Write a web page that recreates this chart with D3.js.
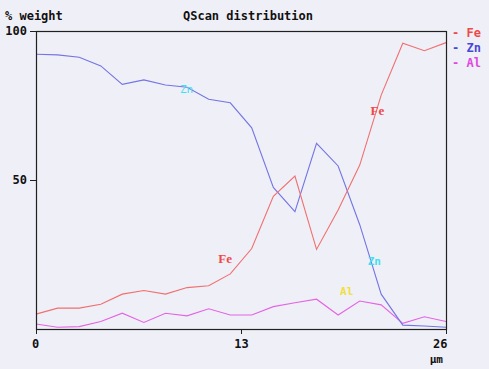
<!DOCTYPE html>
<html>
<head>
<meta charset="utf-8">
<script src="https://cdn.jsdelivr.net/npm/d3@7"></script>
<style>
  body { margin: 0; background: #efeff7; }
  text { font-family: "DejaVu Sans Mono", monospace; font-weight: bold; }
</style>
</head>
<body>
<svg id="chart" width="489" height="369"></svg>
<script>
// scan positions (µm)
var positions = [0, 1.37, 2.74, 4.11, 5.47, 6.84, 8.21, 9.58, 10.95, 12.32,
                 13.68, 15.05, 16.42, 17.79, 19.16, 20.53, 21.89, 23.26, 24.63, 26];

// % weight per element
var fe = [5.0, 7.0, 7.0, 8.3, 11.7, 12.9, 11.7, 13.9, 14.5, 18.5,
          27.0, 44.5, 51.3, 26.7, 39.9, 55.0, 78.5, 95.9, 93.4, 96.1];
var zn = [92.2, 92.0, 91.2, 88.3, 82.1, 83.6, 81.9, 81.1, 77.1, 75.9,
          67.5, 47.5, 39.4, 62.3, 54.7, 35.0, 11.7, 1.3, 1.0, 0.6];
var al = [1.7, 0.6, 0.8, 2.5, 5.3, 2.2, 5.3, 4.4, 6.8, 4.7,
          4.7, 7.5, 8.8, 10.0, 4.7, 9.4, 8.1, 1.9, 4.1, 2.5];

var elements = ["Fe", "Zn", "Al"];
var xTicks = [0, 13, 26];
var yTicks = [50, 100];

// in-plot element labels [element, µm, % weight]
var labels = [["Zn", 9.55, 80.5], ["Fe", 21.65, 73.2], ["Fe", 12.0, 23.8],
              ["Zn", 21.45, 22.8], ["Al", 19.7, 12.8]];

var lineColor = { Fe: "#f07070", Zn: "#7474e4", Al: "#e464e4" };
var legendColor = { Fe: "#f04848", Zn: "#4848d8", Al: "#e048e0" };
var labelColor = { Fe: "#f04848", Zn: "#40e0f0", Al: "#f0e040" };
var labelFont = { Fe: '"Liberation Serif", serif', Zn: '"DejaVu Sans Mono", monospace', Al: '"DejaVu Sans Mono", monospace' };

var MARGIN = { top: 31, right: 43, bottom: 40, left: 36 };
var width = 489 - MARGIN.left - MARGIN.right;
var height = 369 - MARGIN.top - MARGIN.bottom;

var svg = d3.select("#chart");
var g = svg.append("g").attr("transform", "translate(" + MARGIN.left + "," + MARGIN.top + ")");

var x = d3.scaleLinear().domain([0, 26]).range([0, width]);
var y = d3.scaleLinear().domain([0, 100]).range([height, 0]);

var series = { Fe: fe, Zn: zn, Al: al };

// lines
var line = d3.line()
  .x(function(d, i) { return x(positions[i]); })
  .y(function(d) { return y(d); });

elements.slice().reverse().forEach(function(el) {
  g.append("path")
    .datum(series[el])
    .attr("fill", "none")
    .attr("stroke", lineColor[el])
    .attr("stroke-width", 1.1)
    .attr("d", line);
});

// frame
g.append("rect")
  .attr("x", 0.5).attr("y", 0.5)
  .attr("width", width).attr("height", height)
  .attr("fill", "none")
  .attr("stroke", "#202020")
  .attr("stroke-width", 1.2);

// axes
var xAxis = g.append("g")
  .attr("transform", "translate(0," + height + ")")
  .call(d3.axisBottom(x).tickValues(xTicks).tickSize(5).tickPadding(5).tickFormat(d3.format("d")));
xAxis.select(".domain").remove();
xAxis.selectAll("line").attr("stroke", "#202020");
xAxis.selectAll("text")
  .attr("fill", "#111")
  .style("font-size", "12px")
  .style("font-family", '"DejaVu Sans Mono", monospace')
  .style("font-weight", "bold")
  .attr("text-anchor", function(d) { return d == 26 ? "end" : "middle"; })
  .attr("dx", function(d) { return d == 26 ? "1" : (d == 0 ? "-1" : "0"); });

var yAxis = g.append("g")
  .call(d3.axisLeft(y).tickValues(yTicks).tickSize(6).tickPadding(3));
yAxis.select(".domain").remove();
yAxis.selectAll("line").attr("stroke", "#202020");
yAxis.selectAll("text")
  .attr("fill", "#111")
  .style("font-size", "12px")
  .style("font-family", '"DejaVu Sans Mono", monospace')
  .style("font-weight", "bold");

// unit + titles
svg.append("text")
  .attr("x", 443).attr("y", 363)
  .attr("text-anchor", "end")
  .style("font-size", "11px")
  .attr("fill", "#111")
  .text("µm");

svg.append("text")
  .attr("x", 5).attr("y", 20)
  .style("font-size", "12px")
  .attr("fill", "#111")
  .text("% weight");

svg.append("text")
  .attr("x", 248).attr("y", 20)
  .attr("text-anchor", "middle")
  .style("font-size", "12px")
  .attr("fill", "#111")
  .text("QScan distribution");

// legend
var legend = svg.append("g").attr("transform", "translate(452,33)");
legend.selectAll("text")
  .data(elements)
  .enter()
  .append("text")
  .attr("x", 0)
  .attr("y", function(d, i) { return i * 15; })
  .attr("dy", "0.35em")
  .style("font-size", "12px")
  .attr("fill", function(d) { return legendColor[d]; })
  .text(function(d) { return "- " + d; });

// in-plot labels
g.selectAll(".el-label")
  .data(labels)
  .enter()
  .append("text")
  .attr("class", "el-label")
  .attr("x", function(d) { return x(d[1]); })
  .attr("y", function(d) { return y(d[2]); })
  .attr("dy", "0.35em")
  .attr("text-anchor", "middle")
  .style("font-size", function(d) { return d[0] == "Fe" ? "13px" : "11px"; })
  .style("font-family", function(d) { return labelFont[d[0]]; })
  .style("font-weight", function(d) { return d[0] == "Zn" && d[2] > 50 ? "normal" : "bold"; })
  .attr("fill", function(d) { return labelColor[d[0]]; })
  .text(function(d) { return d[0]; });
</script>
</body>
</html>
